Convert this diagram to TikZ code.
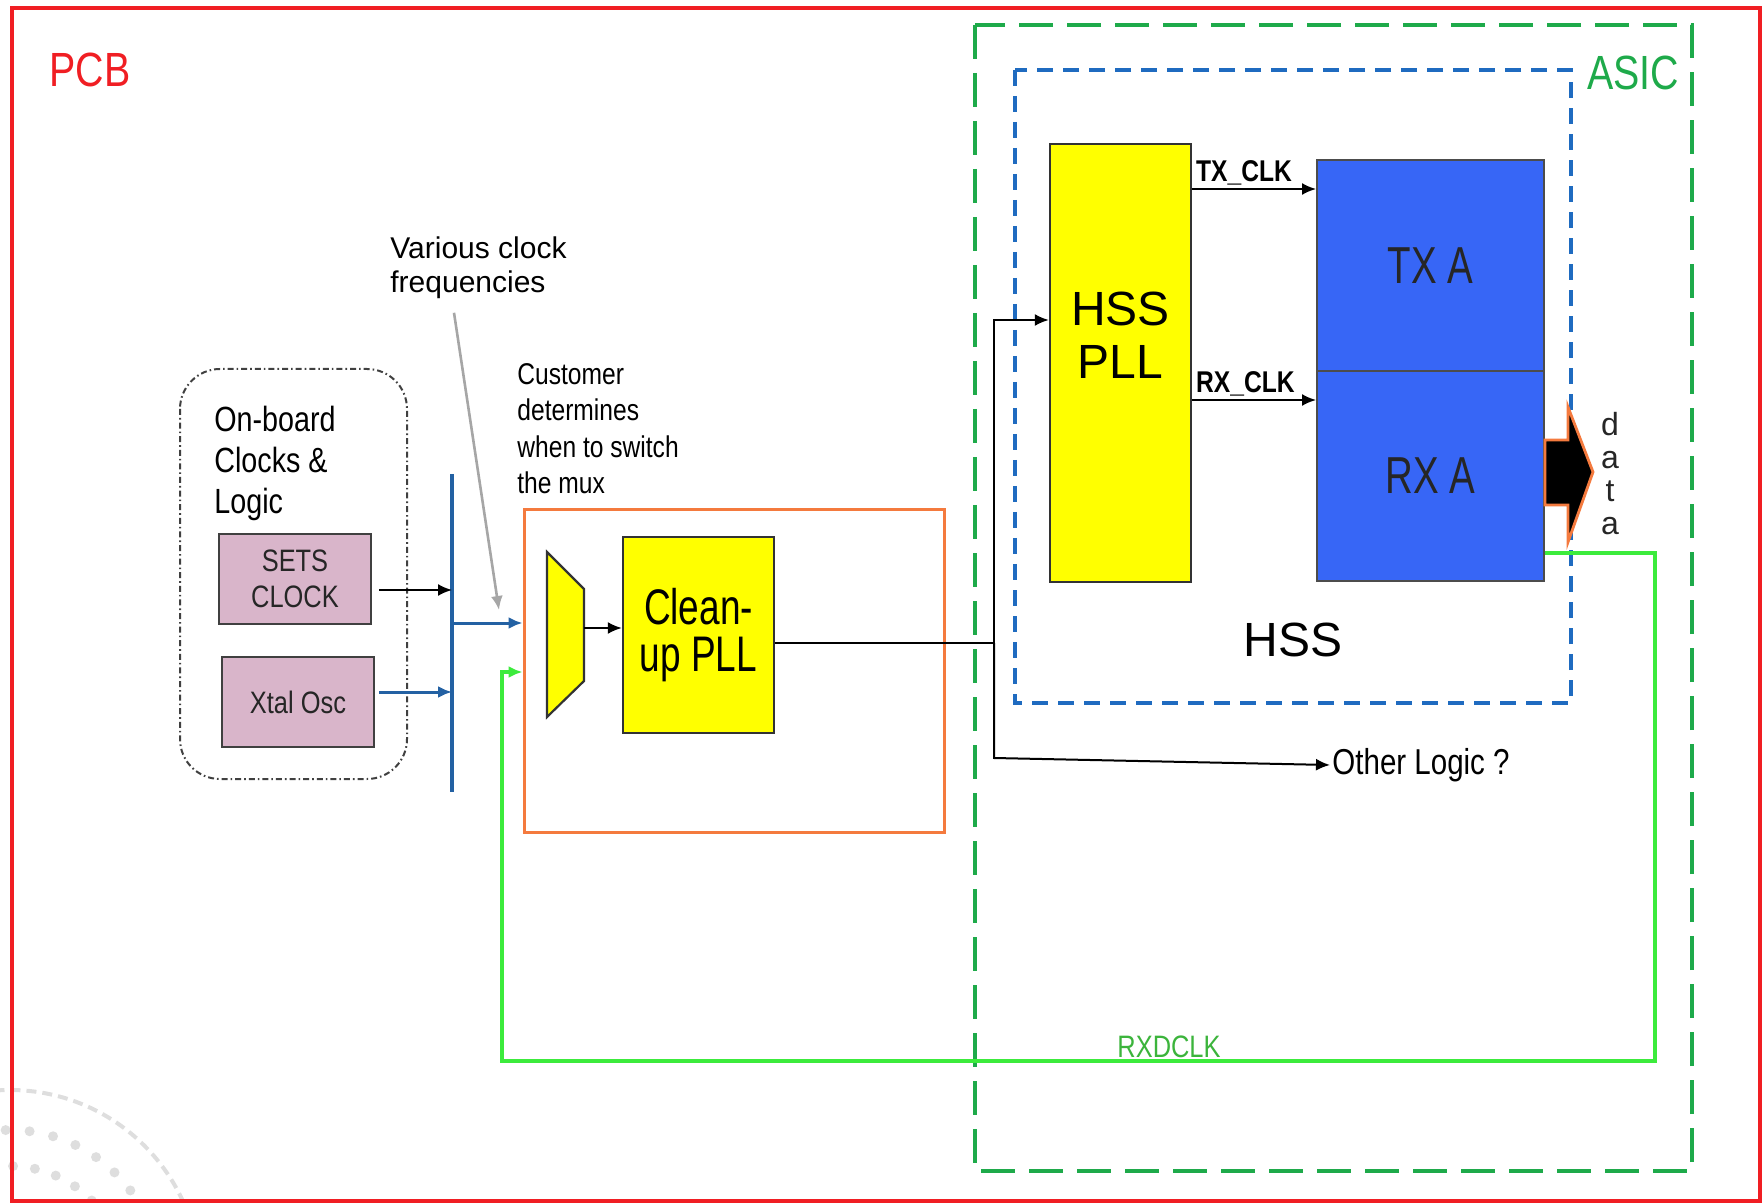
\documentclass[tikz,border=0pt]{standalone}
\usepackage{fontspec}
\setmainfont{Liberation Sans}
\newfontfamily\narrowsf[FakeStretch=0.82]{Liberation Sans}
\newfontfamily\condsf[FakeStretch=0.74]{Liberation Sans}
\usepackage{tikz}
\usetikzlibrary{calc,arrows.meta,positioning}
\definecolor{pcbred}{HTML}{F01E23}
\definecolor{asicgrn}{HTML}{1EAA4A}
\definecolor{hssblue}{HTML}{1F6BC0}
\definecolor{busblue}{HTML}{2361A3}
\definecolor{txblue}{HTML}{3766F6}
\definecolor{pinkx}{HTML}{D9B5CA}
\definecolor{orangex}{HTML}{F47A3E}
\definecolor{loopgrn}{HTML}{3CEB3C}
\definecolor{lblgrn}{HTML}{3CB43C}
\definecolor{ylw}{HTML}{FFFF00}
\tikzset{
  ar/.style={-{Latex[length=7pt,width=6pt]},line width=1pt},
  busar/.style={ar,busblue,line width=1.5pt},
  lpar/.style={ar,loopgrn,line width=1.8pt},
  pinkbox/.style={draw=black!75,line width=1.2pt,fill=pinkx,minimum width=76pt,minimum height=45pt,align=center,text=black!85,font=\narrowsf\fontsize{15.5}{18}\selectfont},
  ylwbox/.style={draw=black!80,line width=1.2pt,fill=ylw,align=center,inner sep=0pt},
  bluebox/.style={draw=black!70,line width=1pt,fill=txblue,minimum width=113.5pt,align=center,text=black!85,font=\condsf\fontsize{26}{30}\selectfont},
  txt/.style={align=left,inner sep=0pt}
}

\begin{document}
\begin{tikzpicture}[x=0.5pt,y=-0.5pt]
\useasboundingbox (0,0) rectangle (1762,1203);
% faint logo in the corner
\begin{scope}
\clip (0,1000) rectangle (260,1203);
\draw[black!13,line width=2pt,dash pattern=on 5pt off 3pt] (10,1280) circle (95pt);
\draw[black!13,line width=5pt,line cap=round,dash pattern=on 0pt off 12pt] (10,1280) circle (75pt);
\draw[black!13,line width=5pt,line cap=round,dash pattern=on 0pt off 11pt] (10,1280) circle (57pt);
\end{scope}
% frames
\draw[pcbred,line width=2pt] (12,8) rectangle (1760,1201);
\node[pcbred,font=\narrowsf\fontsize{24}{28}\selectfont] (pcb) at (90,70) {PCB};
\draw[asicgrn,line width=2.2pt,dash pattern=on 17pt off 7pt] (975,25) rectangle (1692,1171);
\node[asicgrn,font=\narrowsf\fontsize{24}{28}\selectfont] (asic) at (1633,73) {ASIC};
\draw[hssblue,line width=2pt,dash pattern=on 8pt off 5pt] (1015,70) rectangle (1571,703);
\node[font=\fontsize{24}{28}\selectfont] (hss) at (1293,640) {HSS};
% on-board clocks
\draw[black!75,line width=1pt,dash pattern=on 3pt off 1.5pt on 0.8pt off 1.5pt,rounded corners=20pt] (180,369) rectangle (407,779);
\node[txt,anchor=north west,font=\narrowsf\fontsize{17.5}{20.5}\selectfont] (onbrd) at (214,406) {On-board\\Clocks \&\\Logic};
\node[pinkbox] (sets) at (295,579) {SETS\\CLOCK};
\node[pinkbox] (xtal) at (298,702) {Xtal Osc};
\coordinate (bt) at (452,474);
\coordinate (bb) at (452,792);
\draw[busblue,line width=1.8pt] (bt) -- (bb);
\draw[ar] ($(sets.east)+(7,11)$) coordinate (s1) -- (bt |- s1);
\draw[busar] ($(xtal.east)+(4,-10)$) coordinate (x1) -- (bt |- x1);
% notes
\node[txt,anchor=north west,font=\fontsize{15}{17}\selectfont] (various) at (390,236) {Various clock\\frequencies};
\coordinate (muxhint) at (499,610);
\draw[-{Latex[length=7pt,width=6pt]},black!35,line width=1.3pt] ($(various.south west)+(64,14)$) -- (muxhint);
\node[txt,anchor=north west,font=\narrowsf\fontsize{15}{18.2}\selectfont] (cust) at (517,363) {Customer\\determines\\when to switch\\the mux};
% mux and clean-up pll
\node[draw=orangex,line width=1.5pt,minimum width=210pt,minimum height=161pt] (swbox) at (734,671) {};
\filldraw[fill=ylw,draw=black!80,line width=1.1pt] (547,552) -- (584,589) -- (584,681) -- (547,717) -- cycle;
\coordinate (muxout) at (584,628);
\node[ylwbox,minimum width=75.5pt,minimum height=98pt,font=\condsf\fontsize{25}{23.5}\selectfont] (cleanup) at (698.5,635) {Clean-\\up PLL};
\draw[ar] (muxout) -- (cleanup.west |- muxout);
\draw[busar] (bt |- 0,623) -- (swbox.west |- 0,623);
% hss
\node[ylwbox,minimum width=70.5pt,minimum height=219pt] (hsspll) at (1120.5,363) {};
\node[align=center,inner sep=0pt,font=\fontsize{24}{26.5}\selectfont] (hsspllt) at (1120.5,335) {HSS\\PLL};
\node[bluebox,minimum height=105.5pt] (txa) at (1430.5,265.5) {TX A};
\node[bluebox,minimum height=105pt] (rxa) at (1430.5,476) {RX A};
\draw[ar] (hsspll.east |- 0,189) -- node[pos=0,above right,inner sep=1.5pt,font=\narrowsf\bfseries\fontsize{15}{17}\selectfont]{TX\_CLK} (txa.west |- 0,189);
\draw[ar] (hsspll.east |- 0,400) -- node[pos=0,above right,inner sep=1.5pt,font=\narrowsf\bfseries\fontsize{15}{17}\selectfont]{RX\_CLK} (rxa.west |- 0,400);
\filldraw[fill=black,draw=orangex,line width=1.4pt] (rxa.east |- 0,440) -- (1568,440) -- (1568,407) -- (1593,472) -- (1568,542) -- (1568,505) -- (rxa.east |- 0,505) -- cycle;
\node[align=center,inner sep=0pt,text=black!85,font=\fontsize{16}{16.5}\selectfont] (data) at (1610,474) {d\\a\\t\\a};
% clock out of the clean-up pll
\node[anchor=west,inner sep=1pt,font=\narrowsf\fontsize{18}{20}\selectfont] (other) at (1330,765) {Other Logic ?};
\coordinate (jn) at (994,643);
\draw[line width=1pt] (cleanup.east |- jn) -- (jn);
\draw[ar] (jn) |- ([yshift=21.5pt]hsspll.west);
\draw[ar] (jn) -- (jn |- 0,758) -- (other.west);
% recovered clock loop
\coordinate (lpr) at (1655,1061);
\coordinate (lpl) at (502,1061);
\draw[lpar] (rxa.east |- 0,553) -| (lpr) -- (lpl) |- (swbox.west |- 0,672);
\node[lblgrn,font=\narrowsf\fontsize{15.5}{17}\selectfont] (rxdclk) at (1169,1047) {RXDCLK};
\end{tikzpicture}
\end{document}
